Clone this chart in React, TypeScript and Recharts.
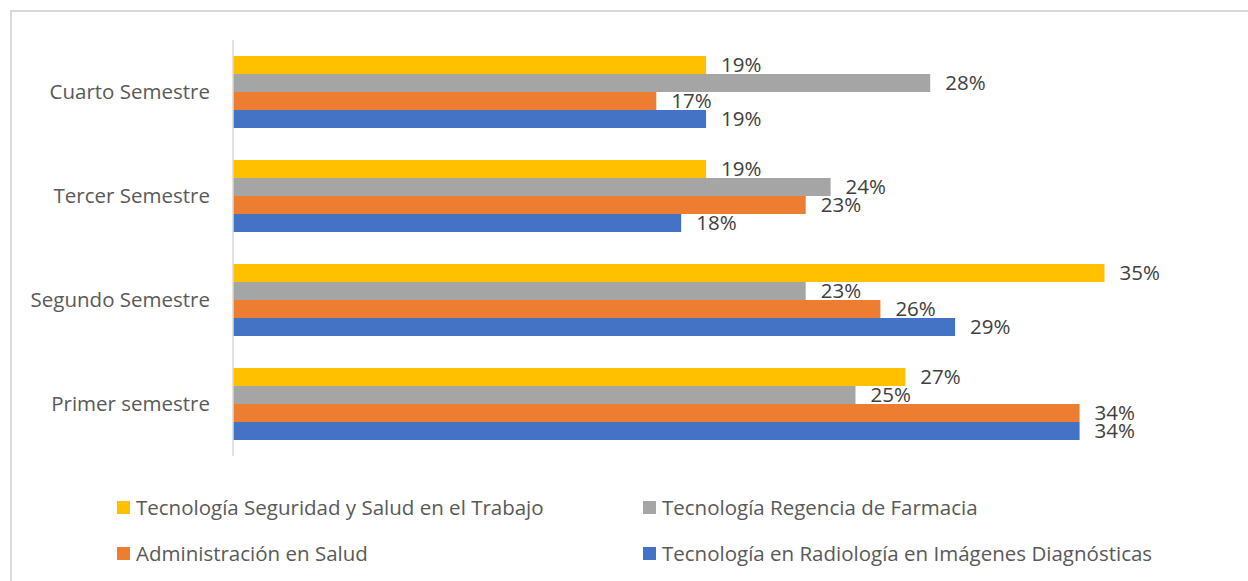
import React from "react";
import { BarChart, Bar, XAxis, YAxis, LabelList, Legend } from "recharts";

const categories = ["Cuarto Semestre", "Tercer Semestre", "Segundo Semestre", "Primer semestre"];
const seguridadSalud = [19, 19, 35, 27];
const regenciaFarmacia = [28, 24, 23, 25];
const administracionSalud = [17, 23, 26, 34];
const radiologia = [19, 18, 29, 34];

const seriesNames = [
  "Tecnología Seguridad y Salud en el Trabajo",
  "Tecnología Regencia de Farmacia",
  "Administración en Salud",
  "Tecnología en Radiología en Imágenes Diagnósticas",
];
const seriesKeys = ["seg", "far", "adm", "rad"];
const seriesColors = ["#FFC000", "#A5A5A5", "#ED7D31", "#4472C4"];
const seriesValues = [seguridadSalud, regenciaFarmacia, administracionSalud, radiologia];

const data = categories.map((c, i) => {
  const row: Record<string, string | number> = { name: c };
  seriesKeys.forEach((k, j) => {
    row[k] = seriesValues[j][i];
  });
  return row;
});

const FONT = "'Open Sans', 'Noto Sans', sans-serif";

const LegendContent = (props: any) => {
  const payload = [...(props.payload || [])].sort(
    (a: any, b: any) => seriesNames.indexOf(a.value) - seriesNames.indexOf(b.value)
  );
  const colX = [117, 643];
  const rowY = [507, 553];
  return (
    <div style={{ position: "relative", width: 1248, height: 581 }}>
      {payload.map((p: any, i: number) => (
        <div
          key={i}
          style={{
            position: "absolute",
            left: colX[i % 2],
            top: rowY[Math.floor(i / 2)] - 15,
            height: 30,
            display: "flex",
            alignItems: "center",
            whiteSpace: "nowrap",
            fontFamily: FONT,
            fontSize: 20.5,
            color: "#595959",
          }}
        >
          <span style={{ display: "inline-block", width: 13, height: 13, background: p.color, marginRight: 6 }} />
          <span>{p.value}</span>
        </div>
      ))}
    </div>
  );
};

export default function App() {
  return (
    <div style={{ position: "absolute", left: 0, top: 0, width: 1248, height: 581, overflow: "hidden", background: "#fff" }}>
      <div
        style={{
          position: "absolute",
          left: 10,
          top: 10,
          width: 1300,
          height: 700,
          borderTop: "2px solid #d9d9d9",
          borderLeft: "2px solid #d9d9d9",
        }}
      />
      <div style={{ position: "absolute", left: 0, top: 0 }}>
        <BarChart
          width={1248}
          height={581}
          data={data}
          layout="vertical"
          margin={{ top: 40, right: 19, bottom: 125, left: 0 }}
          barCategoryGap={16}
          barGap={0}
        >
          <XAxis type="number" domain={[0, 40]} hide />
          <YAxis
            type="category"
            dataKey="name"
            width={233}
            tickSize={0}
            tickMargin={23}
            axisLine={{ stroke: "#d9d9d9", strokeWidth: 1.5 }}
            tickLine={false}
            tick={{ fill: "#595959", fontSize: 20.5, fontFamily: FONT }}
          />
          {seriesKeys.map((k, j) => (
            <Bar key={k} dataKey={k} name={seriesNames[j]} fill={seriesColors[j]} isAnimationActive={false}>
              <LabelList
                dataKey={k}
                position="right"
                offset={15}
                formatter={(v: any) => `${v}%`}
                style={{ fill: "#404040", fontSize: 20.5, fontFamily: FONT }}
              />
            </Bar>
          ))}
          <Legend
            layout="vertical"
            align="center"
            verticalAlign="middle"
            wrapperStyle={{ position: "absolute", left: 0, top: 0, width: 1248, height: 581, pointerEvents: "none" }}
            content={<LegendContent />}
          />
        </BarChart>
      </div>
    </div>
  );
}
